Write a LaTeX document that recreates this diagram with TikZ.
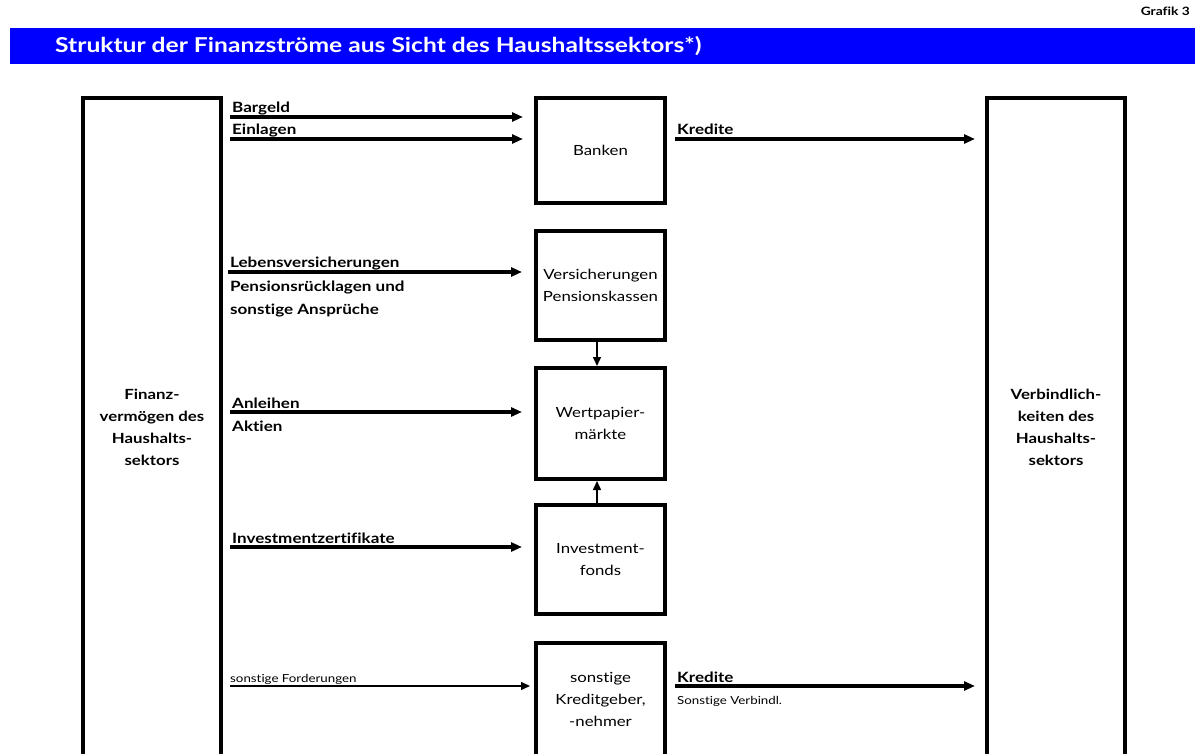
\documentclass[tikz,border=0pt]{standalone}
\usepackage{fontspec}
\setmainfont{Lato}[FakeStretch=1.2, Ligatures=CommonOff]
\usepackage{tikz}
\usetikzlibrary{positioning, arrows.meta}

\definecolor{titleblue}{RGB}{0,0,255}

\tikzset{
  box/.style={draw, line width=4pt, inner sep=0pt, outer sep=0pt, align=center, font=\fontsize{14}{22}\selectfont},
  sector/.style={box, minimum width=138pt, minimum height=658pt, font=\bfseries\fontsize{14}{22}\selectfont},
  flow/.style={line width=3.5pt, -{Triangle[length=11pt,width=9pt]}},
  thinflow/.style={line width=1.5pt, -{Triangle[length=9pt,width=8pt]}},
  lab/.style={anchor=base west, inner sep=0pt, font=\bfseries\fontsize{14.2}{16}\selectfont},
  smalllab/.style={anchor=base west, inner sep=0pt, font=\fontsize{11.1}{12}\selectfont}
}

\begin{document}
\begin{tikzpicture}[x=1pt, y=-1pt]
\useasboundingbox (0,0) rectangle (1195,754);
\clip (0,0) rectangle (1195,754);

% header
\fill[titleblue] (10,28) rectangle (1195,64);
\node[anchor=base east, inner sep=0pt, font=\bfseries\fontsize{11.5}{12}\selectfont] at (1190,16) (grafik) {Grafik 3};
\node[anchor=west, inner sep=0pt, text=white, font=\bfseries\fontsize{20.5}{22}\selectfont] at (55,46) (title) {Struktur der Finanzströme aus Sicht des Haushaltssektors*)};

% sectors
\node[sector] at (152,427) (fin) {Finanz-\\vermögen des\\Haushalts-\\sektors};
\node[sector] at (1056,427) (verb) {Verbindlich-\\keiten des\\Haushalts-\\sektors};

% intermediaries
\node[box, minimum width=129pt, minimum height=105pt] at (600.5,150.5) (banken) {Banken};
\node[box, minimum width=129pt, minimum height=109pt] at (600.5,285.5) (vers) {Versicherungen\\Pensionskassen};
\node[box, minimum width=129pt, minimum height=111pt] at (600.5,423.5) (wert) {Wertpapier-\\märkte};
\node[box, minimum width=129pt, minimum height=109pt] at (600.5,559.5) (invest) {Investment-\\fonds};
\node[box, minimum width=129pt, minimum height=113pt] at (600.5,699.5) (sonst) {sonstige\\Kreditgeber,\\-nehmer};

% flows
\draw[flow, shorten <=9pt, shorten >=13pt] (fin.east |- 0,117) -- (banken.west |- 0,117);
\draw[flow, shorten <=9pt, shorten >=13pt] (fin.east |- 0,139) -- (banken.west |- 0,139);
\draw[flow, shorten <=10pt, shorten >=12pt] (banken.east |- 0,139) -- (verb.west |- 0,139);
\draw[flow, shorten <=7pt, shorten >=14pt] (fin.east |- 0,272) -- (vers.west |- 0,272);
\draw[flow, shorten <=9pt, shorten >=14pt] (fin.east |- 0,412) -- (wert.west |- 0,412);
\draw[flow, shorten <=9pt, shorten >=14pt] (fin.east |- 0,547) -- (invest.west |- 0,547);
\draw[thinflow, shorten <=9pt, shorten >=6pt] (fin.east |- 0,686) -- (sonst.west |- 0,686);
\draw[flow, shorten <=10pt, shorten >=12pt] (sonst.east |- 0,686) -- (verb.west |- 0,686);
\draw[thinflow, shorten >=2pt] ([xshift=-3.5pt]vers.south) -- ([xshift=-3.5pt]wert.north);
\draw[thinflow, shorten >=2pt] ([xshift=-3.5pt]invest.north) -- ([xshift=-3.5pt]wert.south);

% flow labels
\node[lab] at (232,113) (lab1) {Bargeld};
\node[lab] at (232,135) (lab2) {Einlagen};
\node[lab] at (677,135) (lab3) {Kredite};
\node[lab] at (230,268) (lab4) {Lebensversicherungen};
\node[lab] at (230,291) (lab5) {Pensionsrücklagen und};
\node[lab] at (230,315) (lab6) {sonstige Ansprüche};
\node[lab] at (232,408) (lab7) {Anleihen};
\node[lab] at (232,431) (lab8) {Aktien};
\node[lab] at (232,543) (lab9) {Investmentzertifikate};
\node[smalllab] at (230,682) (lab10) {sonstige Forderungen};
\node[lab] at (677,682) (lab11) {Kredite};
\node[smalllab] at (677,704) (lab12) {Sonstige Verbindl.};
\end{tikzpicture}
\end{document}
